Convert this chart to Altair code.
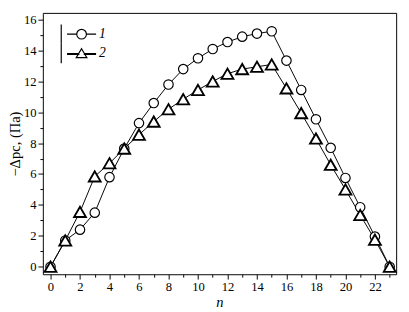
import altair as alt
import pandas as pd

# ---- data ----
n_values = list(range(24))
series1 = [0, 1.7, 2.4, 3.5, 5.8, 7.65, 9.3, 10.6, 11.8, 12.8, 13.5, 14.1,
           14.55, 14.9, 15.1, 15.25, 13.35, 11.45, 9.55, 7.7, 5.75, 3.85, 1.95, 0]
series2 = [0, 1.7, 3.55, 5.85, 6.7, 7.65, 8.55, 9.4, 10.2, 10.85, 11.45, 12.0,
           12.5, 12.8, 12.95, 13.1, 11.55, 9.95, 8.3, 6.6, 5.0, 3.35, 1.75, 0]
series_names = ["1", "2"]
x_major = list(range(0, 23, 2))
x_minor = list(range(1, 24, 2))
y_major = list(range(0, 17, 2))
y_minor = list(range(1, 16, 2))

rows = []
for name, vals in zip(series_names, [series1, series2]):
    for n, v in zip(n_values, vals):
        rows.append({"n": n, "v": v, "series": name})
df = pd.DataFrame(rows)

FONT = "'Liberation Serif', 'Times New Roman', Times, serif"
xscale = alt.Scale(domain=[-0.52, 23.44], nice=False, zero=False)
yscale = alt.Scale(domain=[-0.49, 16.44], nice=False, zero=False)

main_x = alt.Axis(values=x_major, title="n", titleFontStyle="italic", titleFont=FONT,
                  titleFontSize=15, titleFontWeight="normal", titlePadding=1,
                  labelFont=FONT, labelFontSize=13, labelColor="black",
                  tickColor="black", tickSize=5, labelPadding=2, domain=False,
                  grid=False, orient="bottom", titleColor="black")
main_y = alt.Axis(values=y_major, title="−Δpc, (Па)", titleFont=FONT,
                  titleFontSize=15, titleFontWeight="normal", titlePadding=1,
                  labelFont=FONT, labelFontSize=13, labelColor="black",
                  tickColor="black", tickSize=5, labelPadding=2, domain=False,
                  grid=False, orient="left", titleColor="black")
minor_x = alt.Axis(values=x_minor, title=None, labels=False, tickSize=3,
                   tickColor="black", domain=False, grid=False, orient="bottom")
minor_y = alt.Axis(values=y_minor, title=None, labels=False, tickSize=3,
                   tickColor="black", domain=False, grid=False, orient="left")

base = alt.Chart(df)

lines = base.mark_line(color="black", strokeWidth=1).encode(
    x=alt.X("n:Q", scale=xscale, axis=main_x),
    y=alt.Y("v:Q", scale=yscale, axis=main_y),
    detail="series:N",
)

points = base.mark_point(filled=True, fill="white", stroke="black", opacity=1).encode(
    x=alt.X("n:Q", scale=xscale, axis=None),
    y=alt.Y("v:Q", scale=yscale, axis=None),
    shape=alt.Shape("series:N", scale=alt.Scale(domain=series_names,
                                                range=["circle", "triangle-up"]),
                    legend=None),
    size=alt.Size("series:N", scale=alt.Scale(domain=series_names, range=[95, 150]),
                  legend=None),
    strokeWidth=alt.StrokeWidth("series:N", scale=alt.Scale(domain=series_names,
                                                            range=[1.2, 1.9]),
                                legend=None),
)

circle_path = ("M-4.2,-2V2M-3,0H-1M1,0H3"
               "M-1,0A1,1 0 1,0 1,0A1,1 0 1,0 -1,0")
tri_path = ("M-4.2,-2V2M-3,0H-0.55M0.55,0H3M-3,0.2H-0.45M0.45,0.2H3"
            "M0,-1L1.1,0.85L-1.1,0.85Z")

legend_layer = base.transform_filter("datum.n < -100").mark_point(
    filled=False, stroke="black", strokeWidth=1.2, opacity=1).encode(
    x=alt.X("n:Q", scale=xscale, axis=minor_x),
    y=alt.Y("v:Q", scale=yscale, axis=minor_y),
    shape=alt.Shape("series:N",
                    scale=alt.Scale(domain=series_names, range=[circle_path, tri_path]),
                    legend=alt.Legend(orient="none", legendX=33, legendY=15, title=None,
                                      symbolSize=100, symbolStrokeColor="black",
                                      symbolStrokeWidth=1.2,
                                      labelFont=FONT, labelFontSize=14,
                                      labelFontStyle="italic", labelColor="black",
                                      labelOffset=11, rowPadding=-7, padding=0,
                                      symbolOffset=0)),
)

chart = alt.layer(lines, points, legend_layer).resolve_scale(
    shape="independent"
).resolve_axis(
    x="independent", y="independent"
).properties(
    width=365, height=270, padding={"left": 0, "top": 0, "right": 1, "bottom": 0}
).configure(font=FONT).configure_view(stroke="black", strokeWidth=1)

chart.save("out.html", embed_options={"renderer": "svg", "actions": False})
